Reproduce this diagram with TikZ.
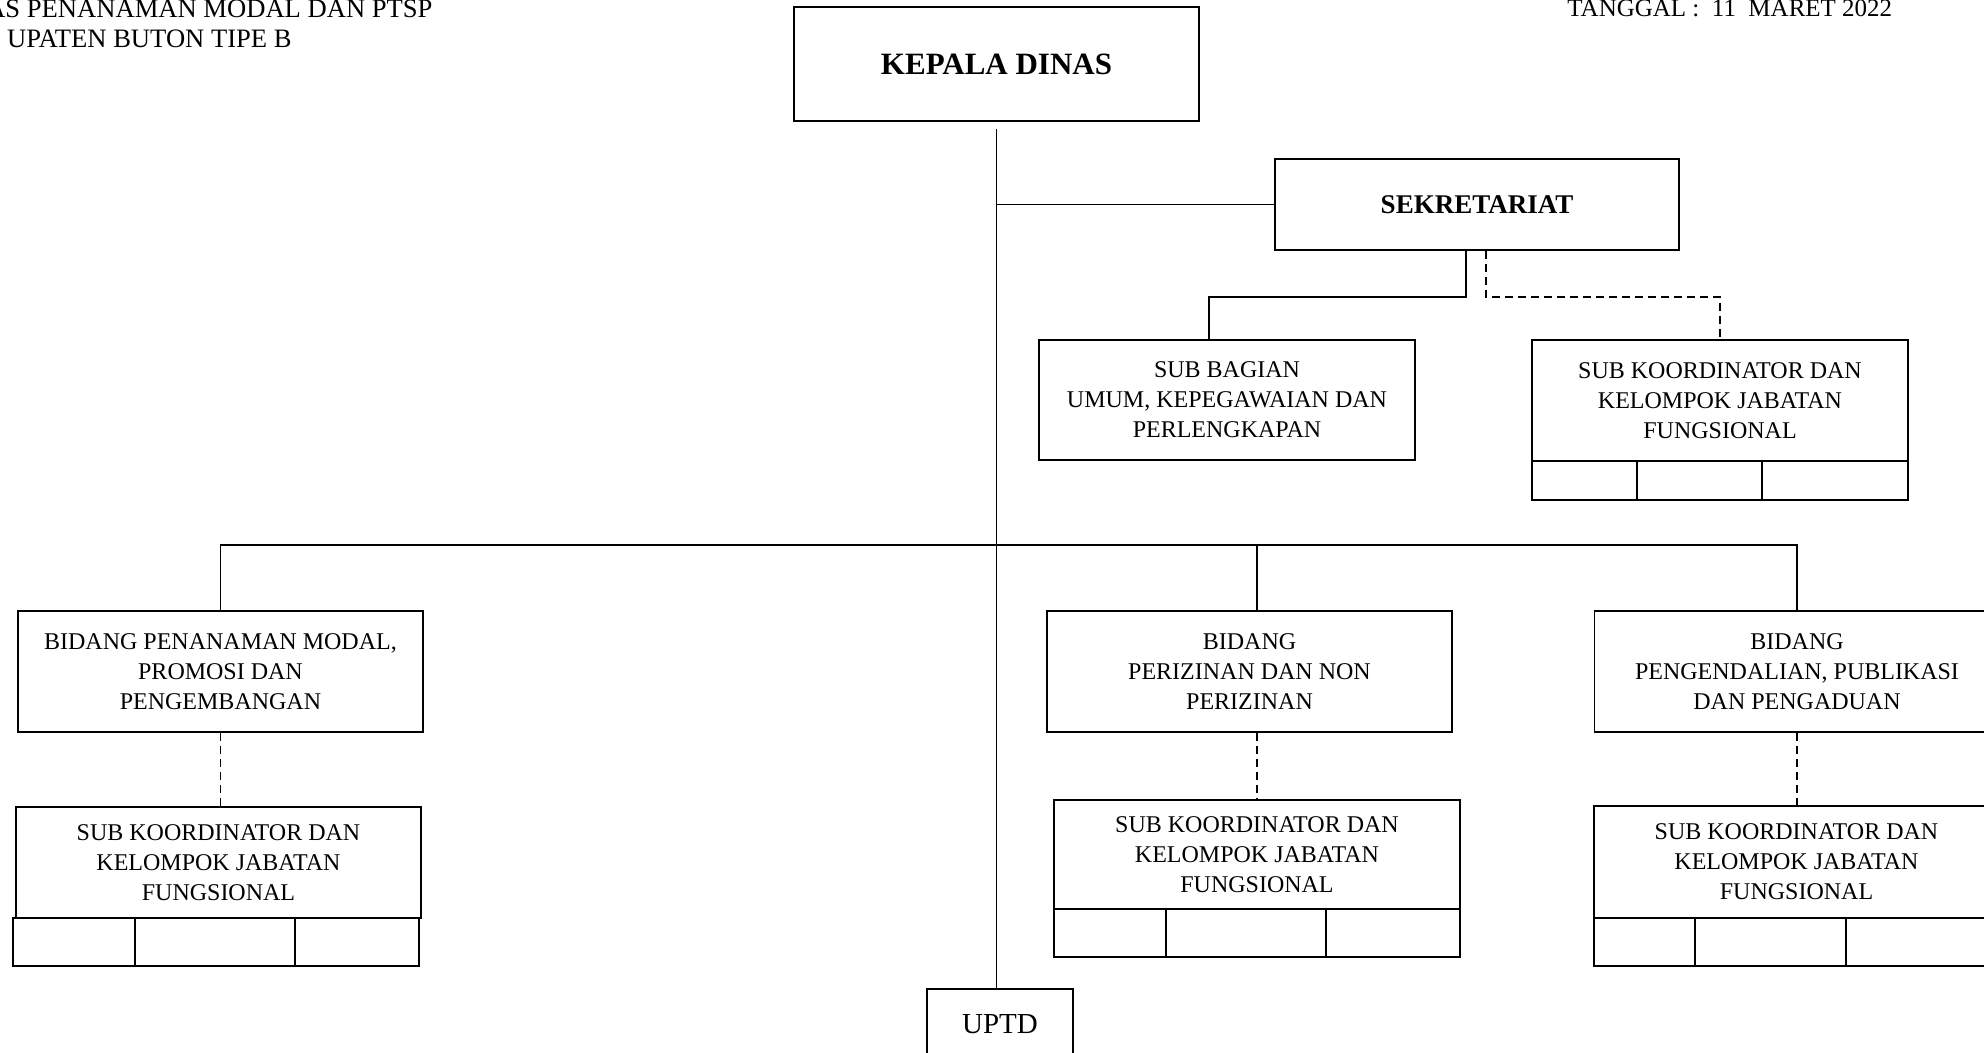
\documentclass[tikz,border=0pt]{standalone}
\usepackage{fontspec}
\setmainfont{Liberation Serif}
\begin{document}
\begin{tikzpicture}[x=0.5pt,y=-0.5pt,
  box/.style={draw, line width=0.9pt, align=center, inner sep=0pt, font=\fontsize{12}{15}\selectfont},
  rowbox/.style={draw, line width=0.9pt, inner sep=0pt},
  conn/.style={line width=0.9pt},
  dconn/.style={line width=0.9pt, dash pattern=on 4pt off 2.5pt},
  hdr/.style={inner sep=0pt, font=\fontsize{12.5}{15}\selectfont}]
\useasboundingbox (0,0) rectangle (1984,1053);

% header texts
\node[hdr, anchor=base east, font=\fontsize{13.3}{15}\selectfont] (h1) at (433,18) {AS PENANAMAN MODAL DAN PTSP};
\node[hdr, anchor=base east, font=\fontsize{13.3}{15}\selectfont] (h2) at (292,48) {UPATEN BUTON TIPE B};
\node[hdr, anchor=base west] (h3) at (1567,17) {TANGGAL :\ \ 11\ \ MARET 2022};

% boxes
\node[box, minimum width=202.5pt, minimum height=57pt, font=\fontsize{15.5}{18}\selectfont\bfseries] (kepala) at (996.5,64) {KEPALA DINAS};
\node[box, minimum width=202pt, minimum height=45.5pt, font=\fontsize{13.5}{16}\selectfont\bfseries] (sekre) at (1477,204.5) {SEKRETARIAT};
\node[box, minimum width=188pt, minimum height=60pt] (subbag) at (1227,400) {SUB BAGIAN\\UMUM, KEPEGAWAIAN DAN\\PERLENGKAPAN};
\node[box, minimum width=188pt, minimum height=60.5pt] (skS) at (1720,400.5) {SUB KOORDINATOR DAN\\KELOMPOK JABATAN\\FUNGSIONAL};
\node[rowbox, minimum width=188pt, minimum height=19.5pt] (skSr) at (1720,480.5) {};

\node[box, minimum width=202.5pt, minimum height=60.5pt] (bidPM) at (220.5,671.5) {BIDANG PENANAMAN MODAL,\\PROMOSI DAN\\PENGEMBANGAN};
\node[box, minimum width=202.5pt, minimum height=55.5pt] (sk1) at (218.5,862.5) {SUB KOORDINATOR DAN\\KELOMPOK JABATAN\\FUNGSIONAL};
\node[rowbox, minimum width=203pt, minimum height=24pt] (sk1r) at (216,942) {};

\node[box, minimum width=202.5pt, minimum height=60.5pt] (bidPz) at (1249.5,671.5) {BIDANG\\PERIZINAN DAN NON\\PERIZINAN};
\node[box, minimum width=203pt, minimum height=54.5pt] (sk2) at (1257,854.5) {SUB KOORDINATOR DAN\\KELOMPOK JABATAN\\FUNGSIONAL};
\node[rowbox, minimum width=203pt, minimum height=24pt] (sk2r) at (1257,933) {};

\node[box, minimum width=202.5pt, minimum height=60.5pt] (bidPg) at (1797,671.5) {BIDANG\\PENGENDALIAN, PUBLIKASI\\DAN PENGADUAN};
\node[box, minimum width=202.5pt, minimum height=56pt] (sk3) at (1796.5,862) {SUB KOORDINATOR DAN\\KELOMPOK JABATAN\\FUNGSIONAL};
\node[rowbox, minimum width=202.5pt, minimum height=24pt] (sk3r) at (1796.5,942) {};

\node[box, minimum width=73pt, minimum height=35pt, font=\fontsize{14.5}{17}\selectfont] (uptd) at (1000,1024) {UPTD};

% row dividers
\foreach \r/\a/\b in {skSr/1637/1762, sk1r/135/295, sk2r/1166/1326, sk3r/1695/1846}{
  \draw[line width=0.9pt] (\r.north -| \a,0) -- (\r.south -| \a,0);
  \draw[line width=0.9pt] (\r.north -| \b,0) -- (\r.south -| \b,0);
}

% main spine
\coordinate (top) at ([yshift=-3.5pt]kepala.south);
\draw[conn] (top) -- (top |- uptd.north);
\draw[conn] (sekre.west -| top) -- (sekre.west);

% sekretariat children
\draw[conn] ([xshift=-5.5pt]sekre.south) -- ++(0,46) -| ([xshift=-9pt]subbag.north);
\draw[dconn] ([xshift=4.5pt]sekre.south) -- ++(0,46) -| (skS.north);

% bus to bidang
\coordinate (busM) at (1257,546);
\draw[conn] (bidPM.north) -- ++(0,-65) -| (bidPg.north);
\draw[conn] (busM) -- (busM |- bidPz.north);

% dashed to sub koordinator
\draw[dconn] (bidPM.south) -- (bidPM.south |- sk1.north);
\draw[dconn] (busM |- bidPz.south) -- (sk2.north);
\draw[dconn] (bidPg.south) -- (bidPg.south |- sk3.north);
\end{tikzpicture}
\end{document}
